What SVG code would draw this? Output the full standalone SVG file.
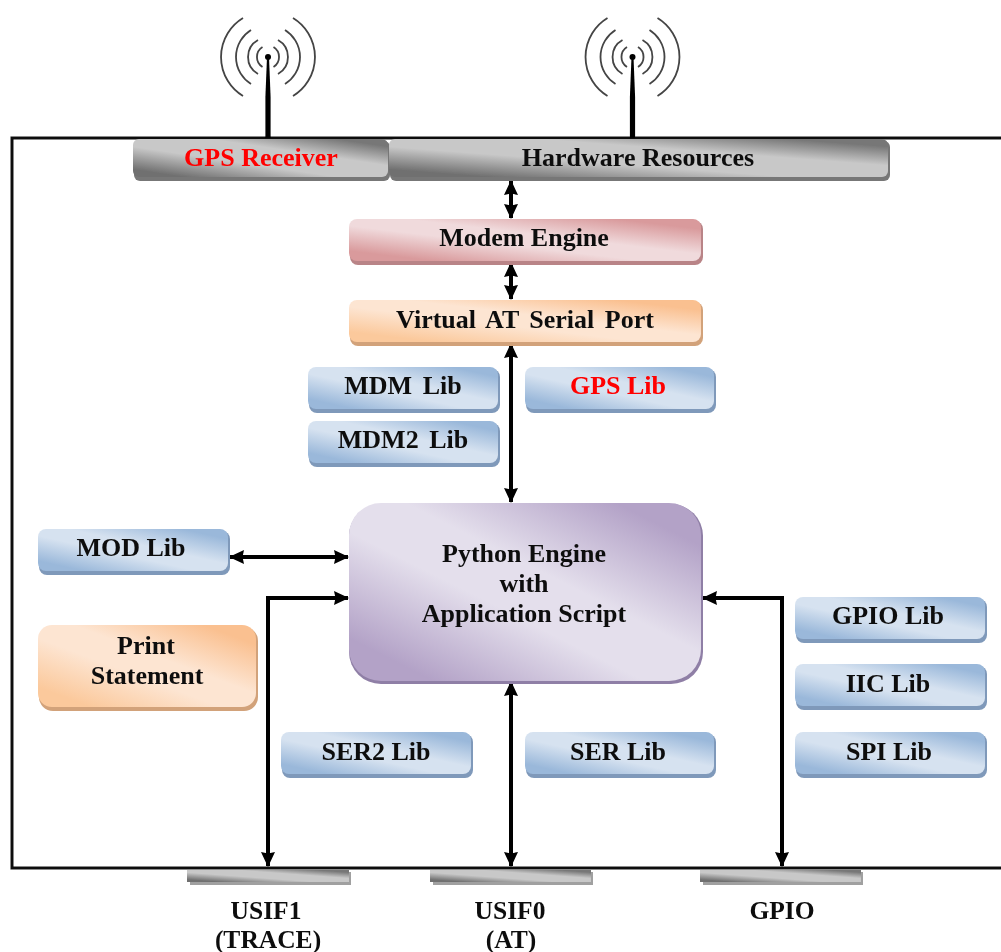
<svg xmlns="http://www.w3.org/2000/svg" width="1001" height="952" viewBox="0 0 1001 952">
<style>
text{font-family:"Liberation Serif","Times New Roman",serif;font-weight:bold;font-size:26px;fill:#111;text-anchor:middle}
.red{fill:#f00}
.ws{word-spacing:4px}
.port{font-size:25.5px}
.sb{fill:#7f99ba}
.so{fill:#d2a27a}
.sp{fill:#b98487}
.sg{fill:#777}
.su{fill:#8f7fa6}
.wire{fill:none;stroke:#000;stroke-width:4}
.frame{fill:none;stroke:#111;stroke-width:3}
.ant{fill:none;stroke:#444;stroke-width:1.8}
</style>
<defs>
<filter id="soft" x="0" y="0" width="100%" height="100%" filterUnits="userSpaceOnUse"><feGaussianBlur stdDeviation="0.55"/></filter>
<linearGradient id="blue" x1="0" y1="1" x2="1" y2="0"><stop offset="0" stop-color="#9ab8da"/><stop offset=".12" stop-color="#9ab8da"/><stop offset=".42" stop-color="#d6e2f0"/><stop offset=".58" stop-color="#d6e2f0"/><stop offset=".88" stop-color="#9ab8da"/><stop offset="1" stop-color="#9ab8da"/></linearGradient>
<linearGradient id="orange" x1="0" y1="1" x2="1" y2="0"><stop offset="0" stop-color="#fbc99c"/><stop offset=".12" stop-color="#fbc99c"/><stop offset=".42" stop-color="#fde5d2"/><stop offset=".58" stop-color="#fde5d2"/><stop offset=".88" stop-color="#fac090"/><stop offset="1" stop-color="#fac090"/></linearGradient>
<linearGradient id="pink" x1="0" y1="1" x2="1" y2="0"><stop offset="0" stop-color="#d99a9c"/><stop offset=".12" stop-color="#d99a9c"/><stop offset=".42" stop-color="#f0dadc"/><stop offset=".58" stop-color="#f0dadc"/><stop offset=".88" stop-color="#d99a9c"/><stop offset="1" stop-color="#d99a9c"/></linearGradient>
<linearGradient id="purple" x1="0" y1="1" x2="1" y2="0"><stop offset="0" stop-color="#b3a2c7"/><stop offset=".12" stop-color="#b3a2c7"/><stop offset=".42" stop-color="#e4dfec"/><stop offset=".58" stop-color="#e4dfec"/><stop offset=".88" stop-color="#b3a2c7"/><stop offset="1" stop-color="#b3a2c7"/></linearGradient>
<linearGradient id="grey" x1="0" y1="1" x2="1" y2="0"><stop offset="0" stop-color="#707070"/><stop offset=".1" stop-color="#707070"/><stop offset=".4" stop-color="#c8c8c8"/><stop offset=".65" stop-color="#c8c8c8"/><stop offset=".9" stop-color="#777"/><stop offset="1" stop-color="#777"/></linearGradient>
<marker id="ah" viewBox="0 0 15 15" refX="14" refY="7.5" markerWidth="15" markerHeight="15" markerUnits="userSpaceOnUse" orient="auto-start-reverse"><path d="M0 0.5L15 7.5L0 14.5L1.5 7.5Z" fill="#000"/></marker>
<g id="antenna">
<path class="ant" d="M-5.5 -10A11.8 11.8 0 0 0 -5.5 10M5.5 -10A11.8 11.8 0 0 1 5.5 10M-10 -17A19.5 19.5 0 0 0 -10 17M10 -17A19.5 19.5 0 0 1 10 17M-17 -27A31.8 31.8 0 0 0 -17 27M17 -27A31.8 31.8 0 0 1 17 27M-25 -39A45.6 45.6 0 0 0 -25 39M25 -39A45.6 45.6 0 0 1 25 39"/>
<circle r="3" fill="#000"/>
<path d="M-1 0L1 0L2.6 40L2.6 81L-2.6 81L-2.6 40Z" fill="#000"/>
</g>
</defs>
<g filter="url(#soft)">
<g id="connectors">
<path class="frame" d="M1001 138H12V868H1001"/>
<line class="wire" x1="511" y1="181" x2="511" y2="218" marker-start="url(#ah)" marker-end="url(#ah)"/>
<line class="wire" x1="511" y1="263" x2="511" y2="299" marker-start="url(#ah)" marker-end="url(#ah)"/>
<line class="wire" x1="511" y1="344" x2="511" y2="502" marker-start="url(#ah)" marker-end="url(#ah)"/>
<line class="wire" x1="230" y1="557" x2="348" y2="557" marker-start="url(#ah)" marker-end="url(#ah)"/>
<path class="wire" d="M268 866V598H348" marker-start="url(#ah)" marker-end="url(#ah)"/>
<line class="wire" x1="511" y1="682" x2="511" y2="866" marker-start="url(#ah)" marker-end="url(#ah)"/>
<path class="wire" d="M782 866V598H703" marker-start="url(#ah)" marker-end="url(#ah)"/>
</g>
<g id="antenna-gps"><use href="#antenna" x="268" y="57"/></g>
<g id="antenna-hw"><use href="#antenna" x="632.5" y="57"/></g>
<g id="gps-receiver"><rect class="sg" x="134" y="141" width="256" height="40" rx="6"/><rect x="133" y="139" width="255" height="38" rx="6" fill="url(#grey)"/><text class="red" x="261" y="166">GPS Receiver</text></g>
<g id="hardware"><rect class="sg" x="390" y="141" width="500" height="40" rx="6"/><rect x="389" y="139" width="499" height="38" rx="6" fill="url(#grey)"/><text x="638" y="166">Hardware Resources</text></g>
<g id="modem"><rect class="sp" x="350" y="221" width="353" height="44" rx="8"/><rect x="349" y="219" width="352" height="42" rx="8" fill="url(#pink)"/><text x="524" y="246">Modem Engine</text></g>
<g id="virtual"><rect class="so" x="350" y="302" width="353" height="44" rx="8"/><rect x="349" y="300" width="352" height="42" rx="8" fill="url(#orange)"/><text class="ws" x="525" y="328">Virtual AT Serial Port</text></g>
<g id="mdm"><rect class="sb" x="309" y="369" width="191" height="44" rx="8"/><rect x="308" y="367" width="190" height="42" rx="8" fill="url(#blue)"/><text class="ws" x="403" y="394">MDM Lib</text></g>
<g id="mdm2"><rect class="sb" x="309" y="423" width="191" height="44" rx="8"/><rect x="308" y="421" width="190" height="42" rx="8" fill="url(#blue)"/><text class="ws" x="403" y="448">MDM2 Lib</text></g>
<g id="gps-lib"><rect class="sb" x="526" y="369" width="190" height="44" rx="8"/><rect x="525" y="367" width="189" height="42" rx="8" fill="url(#blue)"/><text class="red" x="618" y="394">GPS Lib</text></g>
<g id="mod"><rect class="sb" x="39" y="531" width="191" height="44" rx="8"/><rect x="38" y="529" width="190" height="42" rx="8" fill="url(#blue)"/><text x="131" y="556">MOD Lib</text></g>
<g id="print"><rect class="so" x="39" y="627" width="219" height="84" rx="14"/><rect x="38" y="625" width="218" height="82" rx="14" fill="url(#orange)"/><text x="146" y="654">Print</text><text x="147" y="684">Statement</text></g>
<g id="python"><rect class="su" x="349" y="504" width="354" height="180" rx="32"/><rect x="349" y="503" width="352" height="178" rx="32" fill="url(#purple)"/><text x="524" y="562">Python Engine</text><text x="524" y="592">with</text><text x="524" y="622">Application Script</text></g>
<g id="gpio-lib"><rect class="sb" x="796" y="599" width="191" height="44" rx="8"/><rect x="795" y="597" width="190" height="42" rx="8" fill="url(#blue)"/><text x="888" y="624">GPIO Lib</text></g>
<g id="iic"><rect class="sb" x="796" y="666" width="191" height="44" rx="8"/><rect x="795" y="664" width="190" height="42" rx="8" fill="url(#blue)"/><text x="888" y="692">IIC Lib</text></g>
<g id="spi"><rect class="sb" x="796" y="734" width="191" height="44" rx="8"/><rect x="795" y="732" width="190" height="42" rx="8" fill="url(#blue)"/><text x="889" y="760">SPI Lib</text></g>
<g id="ser2"><rect class="sb" x="282" y="734" width="191" height="44" rx="8"/><rect x="281" y="732" width="190" height="42" rx="8" fill="url(#blue)"/><text x="376" y="760">SER2 Lib</text></g>
<g id="ser"><rect class="sb" x="526" y="734" width="190" height="44" rx="8"/><rect x="525" y="732" width="189" height="42" rx="8" fill="url(#blue)"/><text x="618" y="760">SER Lib</text></g>
<g id="usif1"><rect class="sg" x="190" y="872" width="161" height="13" opacity=".7"/><rect x="187" y="870" width="162" height="12" fill="url(#grey)"/><text class="port" x="266" y="919">USIF1</text><text class="port" x="268" y="948">(TRACE)</text></g>
<g id="usif0"><rect class="sg" x="433" y="872" width="160" height="13" opacity=".7"/><rect x="430" y="870" width="161" height="12" fill="url(#grey)"/><text class="port" x="510" y="919">USIF0</text><text class="port" x="511" y="948">(AT)</text></g>
<g id="gpio"><rect class="sg" x="703" y="872" width="160" height="13" opacity=".7"/><rect x="700" y="870" width="161" height="12" fill="url(#grey)"/><text class="port" x="782" y="919">GPIO</text></g>
</g>
</svg>
